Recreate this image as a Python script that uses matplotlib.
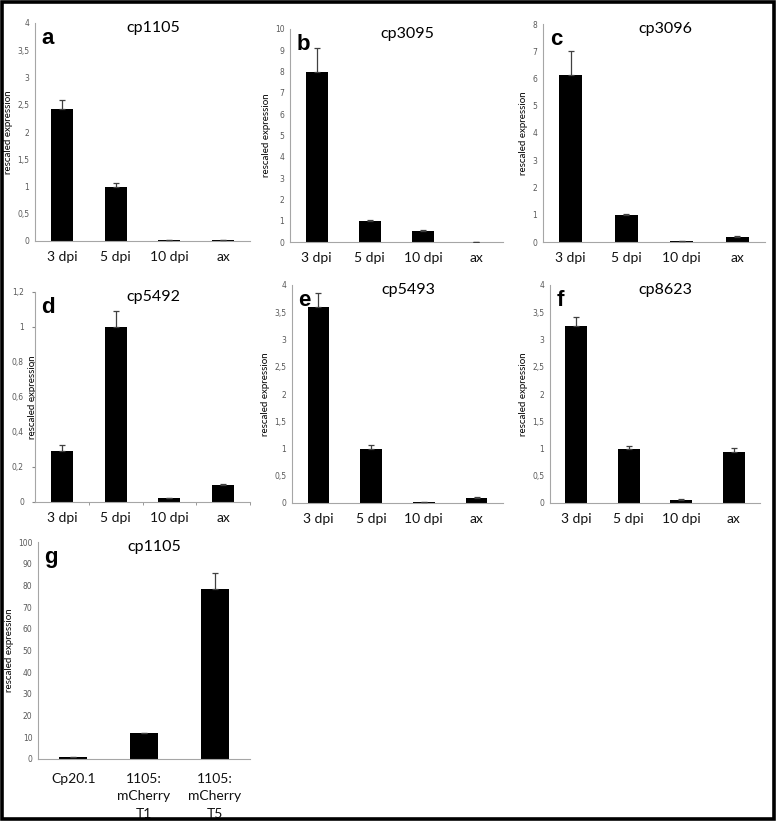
import matplotlib
matplotlib.use('Agg')
import matplotlib.pyplot as plt
from matplotlib.patches import Rectangle
from matplotlib.ticker import FuncFormatter, MultipleLocator

# categories
dpi_cats = ['3 dpi', '5 dpi', '10 dpi', 'ax']
g_cats = ['Cp20.1', '1105:\nmCherry\nT1', '1105:\nmCherry\nT5']

# values (mean, upper error)
a_vals = [2.42, 1.0, 0.01, 0.01]
a_err = [0.16, 0.07, 0.0, 0.0]
b_vals = [7.97, 1.0, 0.5, 0.02]
b_err = [1.13, 0.04, 0.06, 0.0]
c_vals = [6.12, 1.0, 0.02, 0.18]
c_err = [0.88, 0.04, 0.0, 0.04]
d_vals = [0.29, 1.0, 0.022, 0.095]
d_err = [0.035, 0.09, 0.003, 0.006]
e_vals = [3.60, 1.0, 0.02, 0.1]
e_err = [0.25, 0.07, 0.0, 0.01]
f_vals = [3.24, 1.0, 0.06, 0.93]
f_err = [0.17, 0.04, 0.01, 0.08]
g_vals = [1.0, 12.0, 78.3]
g_err = [0.0, 0.0, 7.4]

W, H = 778, 824
fig = plt.figure(figsize=(W / 100, H / 100), dpi=100)


def px_axes(left, right, top, bottom):
    return fig.add_axes([left / W, 1 - bottom / H, (right - left) / W, (bottom - top) / H])


def comma(v, pos):
    return f'{v:g}'.replace('.', ',')


def panel(ax, cats, vals, err, ymax, step, letter, title, width=0.41, ticks=False):
    x = range(len(cats))
    ax.bar(x, vals, width=width, color='black', zorder=2)
    ax.errorbar(x, vals, yerr=[[0] * len(vals), err], fmt='none',
                ecolor='#404040', elinewidth=0.9, capsize=2.5, capthick=0.9, zorder=3)
    ax.set_xlim(-0.5, len(cats) - 0.5)
    ax.set_ylim(0, ymax)
    ax.yaxis.set_major_locator(MultipleLocator(step))
    ax.yaxis.set_major_formatter(FuncFormatter(comma))
    ax.set_xticks(list(x))
    ax.set_xticklabels(cats, fontsize=10, family='Lato', color='#111111')
    for s in ['top', 'right']:
        ax.spines[s].set_visible(False)
    for s in ['left', 'bottom']:
        ax.spines[s].set_color('#a6a6a6')
        ax.spines[s].set_linewidth(0.8)
    ax.tick_params(axis='y', labelsize=5.5, labelcolor='#595959', length=2 if ticks else 0,
                   color='#888888', pad=4)
    ax.tick_params(axis='x', length=0, pad=7)
    ax.set_ylabel('rescaled expression', fontsize=7, family='Lato', labelpad=3)
    ax.text(0.03, 0.975, letter, transform=ax.transAxes, fontsize=16, fontweight='bold',
            family='Liberation Sans', va='top', ha='left')
    ax.text(0.55, 0.975, title, transform=ax.transAxes, fontsize=11.5, family='Lato',
            va='center', ha='center')


ax_a = px_axes(35, 250, 23, 241)
panel(ax_a, dpi_cats, a_vals, a_err, 4, 0.5, 'a', 'cp1105')
ax_b = px_axes(290, 503, 29, 242)
panel(ax_b, dpi_cats, b_vals, b_err, 10, 1, 'b', 'cp3095')
ax_c = px_axes(543, 765, 24, 242)
panel(ax_c, dpi_cats, c_vals, c_err, 8, 1, 'c', 'cp3096')
ax_d = px_axes(35, 250, 292, 502)
panel(ax_d, dpi_cats, d_vals, d_err, 1.2, 0.2, 'd', 'cp5492', ticks=True)
# older excel style in d: label sits between tick labels and axis
ax_d.tick_params(axis='y', pad=6)
ax_d.yaxis.set_label_coords(-0.012, 0.5)
ax_d.yaxis.label.set_va('center')
ax_d.set_xticks([0.5, 1.5, 2.5, 3.5], minor=True)
ax_d.tick_params(axis='x', which='minor', length=2, color='#888888')
ax_e = px_axes(292, 503, 285, 503)
panel(ax_e, dpi_cats, e_vals, e_err, 4, 0.5, 'e', 'cp5493')
ax_f = px_axes(550, 760, 285, 503)
panel(ax_f, dpi_cats, f_vals, f_err, 4, 0.5, 'f', 'cp8623')
ax_g = px_axes(38, 250, 542, 759)
panel(ax_g, g_cats, g_vals, g_err, 100, 10, 'g', 'cp1105', width=0.4)
ax_g.tick_params(axis='x', pad=10)
for lbl in ax_g.get_xticklabels():
    lbl.set_linespacing(1.55)

# outer frame
fig.patches.append(Rectangle((2 / W, 1 - 819 / H), 771.5 / W, 817 / H, transform=fig.transFigure,
                             fill=False, edgecolor='black', linewidth=2.6))

fig.savefig('out.png', dpi=100)
